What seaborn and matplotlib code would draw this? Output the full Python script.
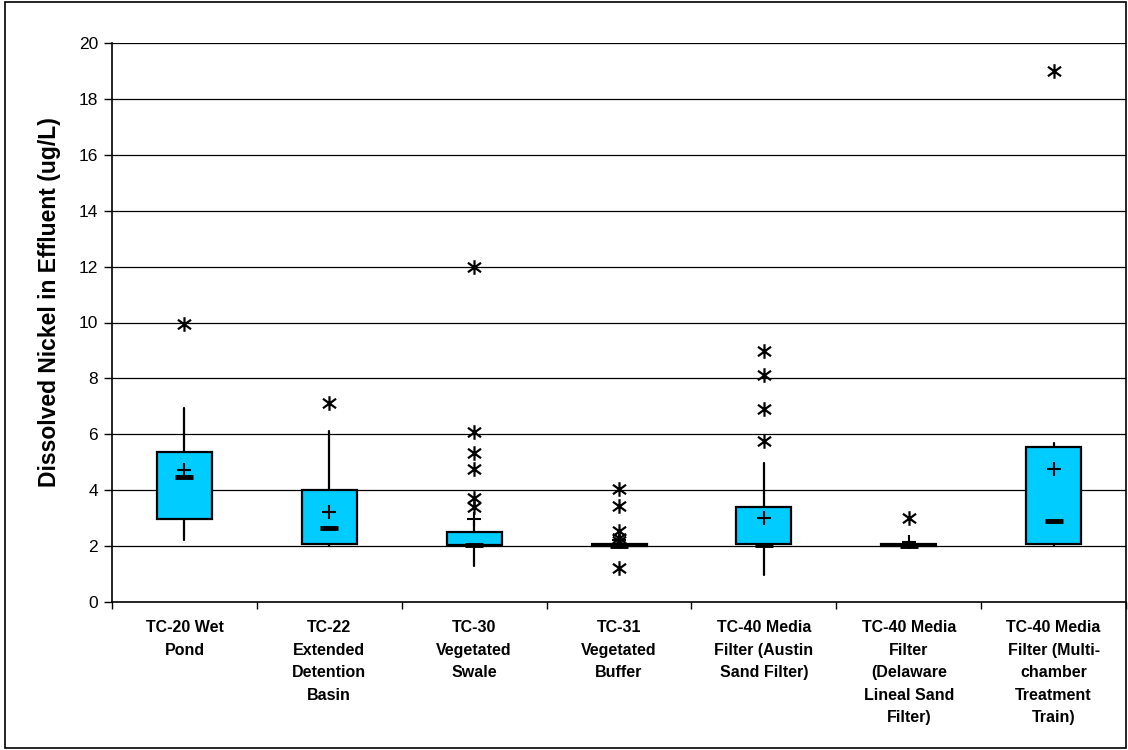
import numpy as np
import pandas as pd
import seaborn as sns
import matplotlib.pyplot as plt
from matplotlib.path import Path
from matplotlib.patches import Rectangle

# --- data ---
categories = ["TC-20 Wet\nPond", "TC-22\nExtended\nDetention\nBasin", "TC-30\nVegetated\nSwale",
              "TC-31\nVegetated\nBuffer", "TC-40 Media\nFilter (Austin\nSand Filter)",
              "TC-40 Media\nFilter\n(Delaware\nLineal Sand\nFilter)",
              "TC-40 Media\nFilter (Multi-\nchamber\nTreatment\nTrain)"]
q1 = [2.96, 2.08, 2.06, 2.00, 2.08, 2.00, 2.08]
q3 = [5.37, 4.03, 2.50, 2.07, 3.42, 2.07, 5.56]
whis_lo = [2.21, 2.00, 1.28, 2.00, 0.99, 2.00, 2.00]
whis_hi = [6.93, 6.12, 2.90, 2.07, 4.97, 2.07, 5.71]
medians = [4.47, 2.65, 2.05, 2.02, 2.06, 2.02, 2.92]
means = [4.73, 3.22, 2.97, 2.24, 3.01, 2.14, 4.76]
outliers = [[9.94], [7.12], [12.0, 6.10, 5.35, 4.76, 3.72, 3.42],
            [4.04, 3.45, 2.53, 2.30, 2.18, 1.23], [8.99, 8.12, 6.91, 5.78], [3.01], [19.0]]
y_ticks = [0, 2, 4, 6, 8, 10, 12, 14, 16, 18, 20]

sns.set_style("white")
plt.rcParams["font.family"] = ["Liberation Sans", "DejaVu Sans"]
plt.rcParams.update({"text.color": "black", "axes.labelcolor": "black",
                     "xtick.color": "black", "ytick.color": "black"})

fig = plt.figure(figsize=(11.28, 7.5), dpi=100)
ax = fig.add_axes([0.0993, 0.197, 0.8990, 0.746])

# gridlines
for t in y_ticks[1:]:
    ax.axhline(t, color="black", lw=0.9, zorder=0)

# boxes from precomputed stats
pos = np.arange(len(categories))
stats = [dict(med=m, q1=a, q3=b, whislo=lo, whishi=hi, fliers=[])
         for m, a, b, lo, hi in zip(medians, q1, q3, whis_lo, whis_hi)]
ax.bxp(stats, positions=pos, widths=0.38, patch_artist=True, showcaps=False,
       boxprops=dict(facecolor="#00CCFF", edgecolor="black", linewidth=1.6),
       whiskerprops=dict(color="black", linewidth=1.6),
       medianprops=dict(visible=False), manage_ticks=False, zorder=2)

# medians (dash) and means (plus)
df_stat = pd.DataFrame({"x": pos, "median": medians, "mean": means})
sns.scatterplot(data=df_stat, x="x", y="median", marker="_", s=150, color="black",
                linewidth=3.5, ax=ax, zorder=4)
sns.scatterplot(data=df_stat, x="x", y="mean", marker="+", s=110, color="black",
                linewidth=1.5, ax=ax, zorder=4)

# outliers as asterisks
star = Path([(0, -1), (0, 1), (-0.9, -0.65), (0.9, 0.65), (-0.9, 0.65), (0.9, -0.65)],
            [Path.MOVETO, Path.LINETO, Path.MOVETO, Path.LINETO, Path.MOVETO, Path.LINETO])
df_out = pd.DataFrame([(i, v) for i, vals in enumerate(outliers) for v in vals], columns=["x", "y"])
sns.scatterplot(data=df_out, x="x", y="y", marker=star, s=110, color="black",
                edgecolor="black", linewidth=1.6, ax=ax, zorder=4)

# axes styling
ax.set_xlim(-0.5, len(categories) - 0.5)
ax.set_ylim(0, 20)
ax.set_yticks(y_ticks)
ax.set_yticklabels([str(t) for t in y_ticks], fontsize=12.5)
ax.set_xticks(pos)
ax.set_xticklabels(categories, fontsize=11.5, fontweight="bold", linespacing=1.62, va="top")
ax.set_xticks(np.arange(-0.5, len(categories)), minor=True)
ax.tick_params(axis="x", which="major", length=0, pad=13)
ax.tick_params(axis="x", which="minor", length=5, width=1, color="black", direction="out", bottom=True)
ax.tick_params(axis="y", length=6, width=1, color="black", direction="out", left=True, pad=4)
ax.set_xlabel("")
ax.set_ylabel("Dissolved Nickel in Effluent (ug/L)", fontsize=16.5, fontweight="bold")
ax.yaxis.set_label_coords(-0.05, 0.536)
for side in ["top", "right"]:
    ax.spines[side].set_visible(False)
for side in ["left", "bottom"]:
    ax.spines[side].set_color("black")
    ax.spines[side].set_linewidth(1.2)

# chart border
fig.patches.append(Rectangle((0.004, 0.003), 0.994, 0.994, transform=fig.transFigure,
                             fill=False, edgecolor="black", linewidth=1.2))

fig.savefig("out.png", dpi=100)
